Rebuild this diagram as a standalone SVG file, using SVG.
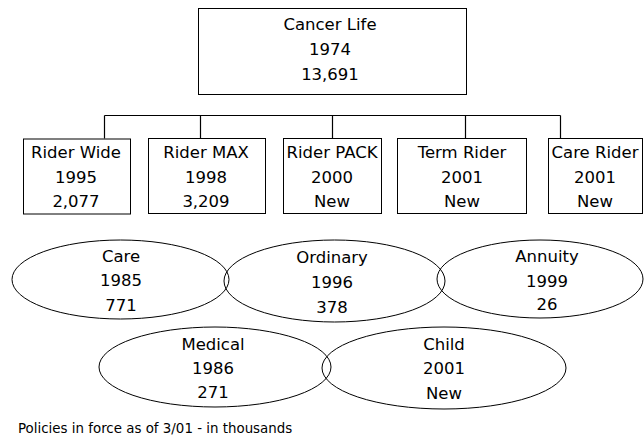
<svg xmlns="http://www.w3.org/2000/svg" width="644" height="443" viewBox="0 0 644 443">
<style>
.box{fill:#fff;stroke:#000;stroke-width:1}
.ell{fill:none;stroke:#000;stroke-width:1}
.con{fill:none;stroke:#000;stroke-width:1.2}
text{font-family:"DejaVu Sans","Liberation Sans",sans-serif;font-size:16.5px;fill:#000;text-anchor:middle}
.foot{font-size:13.4px;text-anchor:start}
</style>
<rect width="644" height="443" fill="#fff"/>
<g id="connectors">
<path class="con" d="M104.5 115.5H560.5M104.5 115.5V138.5M200.5 115.5V138.5M332.5 115.5V138.5M465.5 115.5V138.5M560.5 115.5V138.5"/>
</g>
<g id="cancer-life">
<rect class="box" x="198.5" y="8.5" width="268" height="86"/>
<text x="330" y="30">Cancer Life</text>
<text x="330" y="55">1974</text>
<text x="330" y="80">13,691</text>
</g>
<g id="rider-wide">
<rect class="box" x="23.5" y="139" width="107" height="75"/>
<text x="76" y="158">Rider Wide</text>
<text x="76" y="183">1995</text>
<text x="76" y="207">2,077</text>
</g>
<g id="rider-max">
<rect class="box" x="148.5" y="138.5" width="117" height="75"/>
<text x="206" y="158">Rider MAX</text>
<text x="206" y="183">1998</text>
<text x="206" y="207">3,209</text>
</g>
<g id="rider-pack">
<rect class="box" x="283.5" y="138.5" width="98" height="75"/>
<text x="332" y="158">Rider PACK</text>
<text x="332" y="183">2000</text>
<text x="332" y="207">New</text>
</g>
<g id="term-rider">
<rect class="box" x="397.5" y="138.5" width="129" height="75"/>
<text x="462" y="158">Term Rider</text>
<text x="462" y="183">2001</text>
<text x="462" y="207">New</text>
</g>
<g id="care-rider">
<rect class="box" x="548.5" y="138.5" width="94" height="75"/>
<text x="595" y="158">Care Rider</text>
<text x="595" y="183">2001</text>
<text x="595" y="207">New</text>
</g>
<g id="care">
<ellipse class="ell" cx="120.5" cy="279.5" rx="108.5" ry="39.5"/>
<text x="121" y="262">Care</text>
<text x="121" y="286">1985</text>
<text x="121" y="311">771</text>
</g>
<g id="ordinary">
<ellipse class="ell" cx="334.5" cy="281" rx="110.5" ry="41"/>
<text x="332" y="263">Ordinary</text>
<text x="332" y="288">1996</text>
<text x="332" y="313">378</text>
</g>
<g id="annuity">
<ellipse class="ell" cx="540" cy="279" rx="103" ry="39"/>
<text x="547" y="262">Annuity</text>
<text x="547" y="287">1999</text>
<text x="547" y="310">26</text>
</g>
<g id="medical">
<ellipse class="ell" cx="215" cy="367" rx="116" ry="40"/>
<text x="213" y="350">Medical</text>
<text x="213" y="374">1986</text>
<text x="213" y="398">271</text>
</g>
<g id="child">
<ellipse class="ell" cx="444" cy="368" rx="122" ry="41"/>
<text x="444" y="350">Child</text>
<text x="444" y="374">2001</text>
<text x="444" y="399">New</text>
</g>
<text class="foot" x="18" y="433">Policies in force as of 3/01 - in thousands</text>
</svg>
